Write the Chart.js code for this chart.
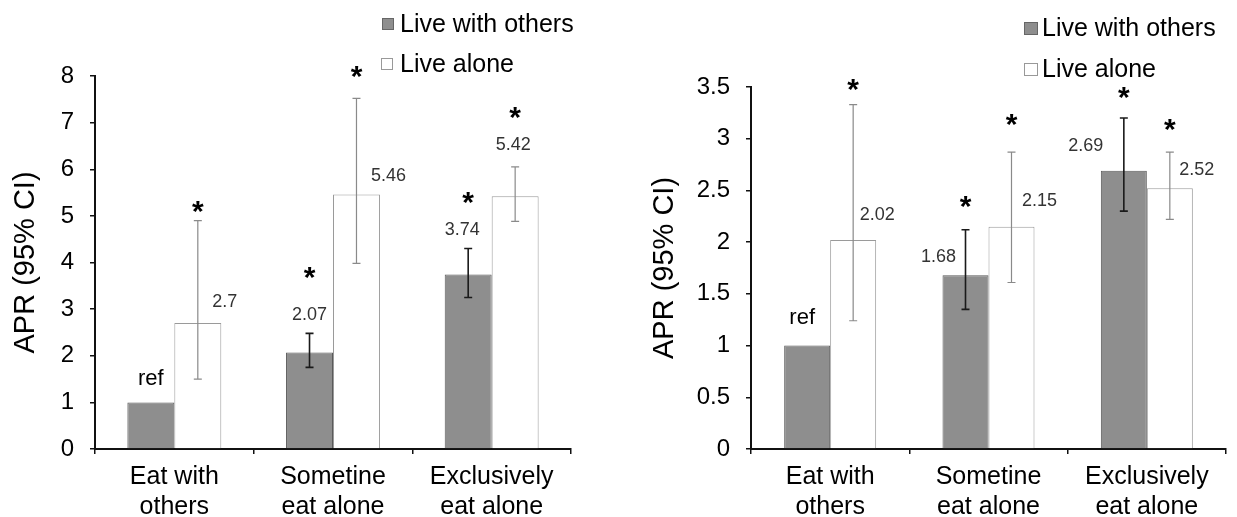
<!DOCTYPE html>
<html>
<head>
<meta charset="utf-8">
<script src="https://cdn.jsdelivr.net/npm/chart.js@4.4.1/dist/chart.umd.min.js"></script>
<style>
html,body{margin:0;padding:0;background:#fff;}
body{width:1237px;height:517px;position:relative;overflow:hidden;font-family:'Liberation Sans',Arial,sans-serif;}
.panel{position:absolute;top:0;height:517px;}
#pA{left:0;width:600px;}
#pB{left:618px;width:619px;}
.lg{position:absolute;font-size:25px;line-height:25px;color:#000;white-space:nowrap;}
.sw{position:absolute;box-sizing:border-box;}
</style>
</head>
<body>
<div class="panel" id="pA"><canvas id="cA"></canvas></div>
<div class="panel" id="pB"><canvas id="cB"></canvas></div>

<div class="sw" style="left:382px;top:18px;width:12px;height:12px;background:#8e8e8e;border:1px solid #666;"></div>
<div class="lg" style="left:400px;top:11px;">Live with others</div>
<div class="sw" style="left:381px;top:58px;width:12px;height:12px;background:#fff;border:1px solid #999;"></div>
<div class="lg" style="left:400px;top:51px;">Live alone</div>

<div class="sw" style="left:1024px;top:22px;width:14px;height:13px;background:#8e8e8e;border:1px solid #666;"></div>
<div class="lg" style="left:1042px;top:15px;">Live with others</div>
<div class="sw" style="left:1024px;top:63px;width:14px;height:13px;background:#fff;border:1px solid #999;"></div>
<div class="lg" style="left:1042px;top:56px;">Live alone</div>

<script>
// ---------- data ----------
const categories = [['Eat with', 'others'], ['Sometine', 'eat alone'], ['Exclusively', 'eat alone']];
const seriesNames = ['Live with others', 'Live alone'];
const axisTitle = 'APR (95% CI)';
const refText = 'ref';

// Panel A (left)
const othersA     = [1, 2.07, 3.74];
const othersLowA  = [null, 1.75, 3.25];
const othersHighA = [null, 2.48, 4.30];
const aloneA      = [2.7, 5.46, 5.42];
const aloneLowA   = [1.50, 3.98, 4.88];
const aloneHighA  = [4.90, 7.52, 6.05];
const sigOthersA  = [false, true, true];
const sigAloneA   = [true, true, true];
const yMaxA = 8, yStepA = 1;

// Panel B (right)
const othersB     = [1, 1.68, 2.69];
const othersLowB  = [null, 1.35, 2.30];
const othersHighB = [null, 2.12, 3.20];
const aloneB      = [2.02, 2.15, 2.52];
const aloneLowB   = [1.24, 1.61, 2.22];
const aloneHighB  = [3.33, 2.87, 2.87];
const sigOthersB  = [false, true, true];
const sigAloneB   = [true, true, true];
const yMaxB = 3.5, yStepB = 0.5;

const refIndex = 0; // reference bar (Live with others, Eat with others)

// ---------- annotation layout (pixel offsets, not data) ----------
const layoutA = {
  others: { star: [null, 60, 51], label: [{at:'bar',dx:0,dy:-25},{at:'ci',dx:0,dy:-20},{at:'ci',dx:-6,dy:-20}] },
  alone:  { star: [14, 26, 54],   label: [{at:'bar',dx:27,dy:-23},{at:'bar',dx:32,dy:-20},{at:'ci',dx:-2,dy:-23}] }
};
const layoutB = {
  others: { star: [null, 28, 25], label: [{at:'bar',dx:-5,dy:-30},{at:'bar',dx:-27,dy:-20},{at:'bar',dx:-38,dy:-26}] },
  alone:  { star: [20, 32, 27],   label: [{at:'bar',dx:24,dy:-27},{at:'bar',dx:28,dy:-27},{at:'bar',dx:27,dy:-20}] }
};

const FONT = "'Liberation Sans', Arial, sans-serif";

function drawCentered(ctx, text, cx, cy, font, color) {
  ctx.save();
  ctx.font = font;
  ctx.fillStyle = color;
  ctx.textAlign = 'center';
  ctx.textBaseline = 'alphabetic';
  const m = ctx.measureText(text);
  const asc = m.actualBoundingBoxAscent, desc = m.actualBoundingBoxDescent;
  ctx.fillText(text, cx, cy + (asc - desc) / 2);
  ctx.restore();
}

const annotPlugin = {
  id: 'annot',
  afterDatasetsDraw(chart, args, opts) {
    const ctx = chart.ctx;
    const ys = chart.scales.y;
    opts.series.forEach((s, di) => {
      const meta = chart.getDatasetMeta(di);
      meta.data.forEach((bar, j) => {
        const x = bar.x;
        const lo = s.low[j], hi = s.high[j];
        if (lo != null && hi != null) {
          const yl = ys.getPixelForValue(lo), yh = ys.getPixelForValue(hi);
          ctx.save();
          ctx.strokeStyle = s.errColor;
          ctx.lineWidth = s.errWidth;
          ctx.beginPath();
          ctx.moveTo(x, yl); ctx.lineTo(x, yh);
          ctx.moveTo(x - 4, yl); ctx.lineTo(x + 4, yl);
          ctx.moveTo(x - 4, yh); ctx.lineTo(x + 4, yh);
          ctx.stroke();
          ctx.restore();
        }
        const barTop = ys.getPixelForValue(s.values[j]);
        const ciTop = hi != null ? ys.getPixelForValue(hi) : barTop;
        const L = s.layout.label[j];
        const anchor = L.at === 'ci' ? ciTop : barTop;
        const isRef = s.ref === j;
        const text = isRef ? refText : String(s.values[j]);
        drawCentered(ctx, text, x + L.dx, anchor + L.dy,
          isRef ? ('22px ' + FONT) : ('18px ' + FONT), isRef ? '#000' : '#333');
        if (s.sig[j]) {
          drawCentered(ctx, '*', x, ciTop - s.layout.star[j], 'bold 30px ' + FONT, '#000');
        }
      });
    });
  }
};

function makeChart(id, cfg) {
  new Chart(document.getElementById(id), {
    type: 'bar',
    data: {
      labels: categories,
      datasets: [
        { label: seriesNames[0], data: cfg.others, backgroundColor: '#8e8e8e', borderColor: '#5a5a5a', borderWidth: 1, borderSkipped: 'bottom' },
        { label: seriesNames[1], data: cfg.alone, backgroundColor: '#ffffff', borderColor: '#9a9a9a', borderWidth: 1, borderSkipped: 'bottom' }
      ]
    },
    options: {
      responsive: true,
      maintainAspectRatio: false,
      animation: false,
      events: [],
      datasets: { bar: { barPercentage: 1, categoryPercentage: cfg.catPct } },
      layout: { padding: { left: 0, right: cfg.padRight, top: cfg.padTop, bottom: 0 } },
      plugins: {
        legend: { display: false },
        tooltip: { enabled: false },
        annot: {
          series: [
            { values: cfg.others, low: cfg.othersLow, high: cfg.othersHigh, sig: cfg.sigOthers, layout: cfg.layout.others, ref: refIndex, errColor: '#1a1a1a', errWidth: 1.6 },
            { values: cfg.alone, low: cfg.aloneLow, high: cfg.aloneHigh, sig: cfg.sigAlone, layout: cfg.layout.alone, ref: -1, errColor: '#8a8a8a', errWidth: 1.2 }
          ]
        }
      },
      scales: {
        x: {
          grid: { display: true, drawOnChartArea: false, drawTicks: true, tickLength: 5, color: '#111', lineWidth: 1.5, offset: true },
          border: { display: true, color: '#111', width: 2 },
          ticks: { font: { family: FONT, size: 25, lineHeight: 1.2 }, color: '#000', padding: 8, maxRotation: 0, autoSkip: false },
          afterFit(s) { s.height = 68; }
        },
        y: {
          min: 0,
          max: cfg.yMax,
          ticks: {
            stepSize: cfg.yStep, font: { family: FONT, size: 24 }, color: '#000', padding: 16,
            callback: (v) => String(Math.round(v * 100) / 100)
          },
          grid: { display: true, drawOnChartArea: false, drawTicks: true, tickLength: 5, color: '#111', lineWidth: 1.5 },
          border: { display: true, color: '#111', width: 2 },
          title: { display: true, text: axisTitle, font: { family: FONT, size: 29 }, color: '#000', padding: { top: cfg.titlePad, bottom: 0 } },
          afterFit(s) { s.width = cfg.yWidth; }
        }
      }
    },
    plugins: [annotPlugin]
  });
}

makeChart('cA', {
  others: othersA, othersLow: othersLowA, othersHigh: othersHighA,
  alone: aloneA, aloneLow: aloneLowA, aloneHigh: aloneHighA,
  sigOthers: sigOthersA, sigAlone: sigAloneA,
  yMax: yMaxA, yStep: yStepA, layout: layoutA,
  catPct: 0.592, padRight: 29, padTop: 76, yWidth: 95, titlePad: 8.6
});
makeChart('cB', {
  others: othersB, othersLow: othersLowB, othersHigh: othersHighB,
  alone: aloneB, aloneLow: aloneLowB, aloneHigh: aloneHighB,
  sigOthers: sigOthersB, sigAlone: sigAloneB,
  yMax: yMaxB, yStep: yStepB, layout: layoutB,
  catPct: 0.581, padRight: 11, padTop: 87, yWidth: 133, titlePad: 29.6
});
</script>
</body>
</html>
